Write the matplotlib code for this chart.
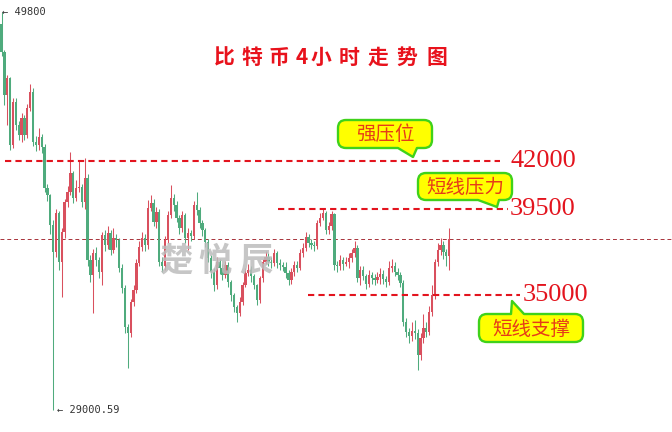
import numpy as np
import matplotlib
matplotlib.use('Agg')
import matplotlib.pyplot as plt
from matplotlib.path import Path
from matplotlib.patches import PathPatch
from matplotlib.transforms import Affine2D

plt.rcParams['font.family'] = ['Noto Sans CJK SC', 'DejaVu Sans']

# 4h BTC candles (prices)
first_open = 49160
closes = [
    47690, 45450, 46340, 42840, 45080, 43880, 43360, 44250, 43360, 44770,
    45600, 42990, 42840, 43250, 42730, 40590, 40220, 38660, 37250, 39280,
    36720, 38290, 39860, 40380, 41370, 40070, 40590, 40640, 39860, 41110,
    36830,
    36050, 37190, 36830, 36200, 38130, 37610, 38240, 37350, 37980, 37870,
    36410, 35370, 33330, 33010, 34640, 35260, 36670, 37510, 37980, 37610,
    39550, 39810, 38810, 39340, 36720, 36520, 37870, 39180, 40070, 39700,
    39020, 38500, 39180, 37980, 38240, 38080, 39700, 39440, 38760, 38400,
    37770, 36930, 36200, 35520, 36720, 36410, 36050, 36570, 35680, 35000,
    34370, 34060, 34640, 35520, 36150, 36310, 35990, 35520, 34740, 35890,
    36720, 36990, 36720, 36670, 37190, 36670, 36570,
    36450,
    36150, 35780, 36200, 36570, 36410, 37190, 37460, 38030, 37720, 37610,
    37560, 38760, 39020, 39280, 38400, 38600, 39230, 36570, 36520, 36830,
    36620,
    36750,
    36930, 37190, 37460, 35890, 36310, 35990, 35580, 36050, 35890, 35780,
    35950,
    36100, 35840, 35680, 36410, 36520, 36200, 36050, 35630, 33590, 33070,
    32860, 33120, 33010, 31870, 32750, 33280, 33070, 34110, 35000, 36720,
    37350, 37610, 37250, 37040, 37920,
]
highs = [
    49800, 47800, 46500, 46400, 45300, 45300, 44100, 44500, 44400, 45000,
    46000, 45800, 43300, 43700, 43400, 42900, 40800, 40300, 38900, 39500,
    39400, 38500, 40000, 40700, 42470, 41500, 41000, 42050, 40800, 42160,
    41300,
    37100, 37400, 37500, 37000, 38300, 38400, 38600, 38400, 38500, 38200,
    38000, 36600, 35500, 33500, 34800, 35500, 36900, 37800, 38300, 38200,
    39960, 40220, 40000, 39600, 39500, 37000, 38100, 39400, 40750, 40300,
    39900, 39200, 39400, 39300, 38500, 38400, 39900, 40380, 39600, 38900,
    38500, 37900, 37100, 36400, 37000, 36900, 36600, 36800, 36700, 35800,
    35100, 34500, 34900, 35700, 36400, 36600, 36500, 36100, 35600, 36000,
    36900, 37300, 37200, 37000, 37400, 37300, 36900,
    36700,
    36700, 36300, 36400, 36800, 36800, 37400, 37700, 38300, 38200, 37900,
    37800, 38900, 39300, 39550, 39400, 38800, 39390, 39300, 36800, 37100,
    37000,
    37000,
    37200, 37400, 37800, 37600, 36500, 36500, 36100, 36300, 36200, 36100,
    36200,
    36400, 36300, 36000, 36800, 36900, 36700, 36400, 36200, 35800, 33800,
    33300, 33600, 33700, 33200, 33000, 34000, 33600, 34400, 35500, 36900,
    37700, 38000, 37800, 37400, 38500,
]
lows = [
    47500, 44930, 43880, 42580, 42680, 43600, 43100, 42990, 43100, 43200,
    44600, 42800, 42500, 42600, 42400, 40400, 39900, 38200, 29000.59, 37000,
    36300, 34900, 38000, 39600, 40200, 39800, 39900, 40400, 39600, 39500,
    36500,
    35700, 34060, 36500, 35900, 35520, 37300, 37400, 37100, 37200, 37500,
    36200, 35100, 33000, 31190, 32800, 34400, 35100, 36500, 37300, 37300,
    37400, 39400, 38600, 38500, 36500, 36200, 36300, 37700, 39000, 39400,
    38800, 38200, 38300, 37700, 37350, 37800, 37900, 39200, 38500, 38100,
    37500, 36700, 35900, 35200, 35300, 36100, 35800, 35900, 35400, 34700,
    34100, 33590, 33900, 34500, 35400, 36000, 35700, 35300, 34480, 34600,
    35700, 36600, 36500, 36400, 36500, 36400, 36300,
    36250,
    35900, 35500, 35600, 36000, 36200, 36300, 37000, 37300, 37500, 37400,
    37300, 37400, 38600, 38900, 38200, 38200, 38400, 36300, 36200, 36300,
    36300,
    36500,
    36400, 36700, 37000, 35700, 35500, 35800, 35300, 35400, 35600, 35500,
    35650,
    35600, 35600, 35400, 35500, 36200, 36000, 35800, 35400, 33400, 32800,
    32500, 32600, 32700, 31080, 31600, 32500, 32800, 32900, 33900, 34800,
    36500, 37100, 36900, 36500, 36310,
]
opens = [first_open] + closes[:-1]

levels = [42000, 39500, 35000]
level_texts = ['42000', '39500', '35000']
top_label = '← 49800'
top_price = 49800
bottom_label = '← 29000.59'
bottom_price = 29000.59
title = '比特币4小时走势图'
watermark = '楚悦辰'
bubble_texts = ['强压位', '短线压力', '短线支撑']

UP = '#d9505e'
DOWN = '#4fab7d'
LINE_RED = '#e3141e'

W, H = 672, 432
fig = plt.figure(figsize=(W / 100, H / 100), dpi=100)
ax = fig.add_axes([0, 0, 1, 1])
ax.axis('off')

step = 2.87
def px2x(px):
    return (px - 1.5) / step

ax.set_xlim(px2x(0), px2x(W))
ax.set_ylim(27843, 50411)

# candles
o = np.array(opens, float)
c = np.array(closes, float)
hi = np.array(highs, float)
lo = np.array(lows, float)
idx = np.arange(len(c))
cols = np.where(c >= o, UP, DOWN)
ax.vlines(idx, lo, hi, colors=cols, lw=0.75, zorder=2)
body = np.maximum(np.abs(c - o), 60)
ax.bar(idx, body, bottom=np.minimum(o, c), width=0.8, color=cols,
       linewidth=0, zorder=3)

# current price line
ax.axhline(closes[-1], color='#a8323a', lw=0.7, dashes=(4, 3), zorder=1)

# support / resistance levels
spans = [(5, 500), (278, 508), (308, 520)]
label_px = [510, 510, 523]
for lvl, txt, (a, b), lx in zip(levels, level_texts, spans, label_px):
    ax.plot([px2x(a), px2x(b)], [lvl, lvl], color=LINE_RED, lw=1.5,
            dashes=(3, 2), zorder=4)
    ax.text(px2x(lx), lvl, txt, color=LINE_RED, fontsize=19,
            family='Liberation Serif', va='center', ha='left', zorder=6)

# high / low markers
ax.text(px2x(2), top_price, top_label, family='DejaVu Sans Mono',
        fontsize=7.5, color='#333333', va='center', ha='left')
ax.text(px2x(57), bottom_price, bottom_label, family='DejaVu Sans Mono',
        fontsize=7.5, color='#333333', va='center', ha='left')

# pixel transform for decorations (y down, like the picture)
pix = Affine2D().scale(1 / W, -1 / H).translate(0, 1) + fig.transFigure

# title, one glyph at a time (wide letter spacing)
title_px = [224, 252, 279, 302, 321, 349, 378, 407, 437]
for ch, xp in zip(title, title_px):
    fig.text(xp, 57, ch, transform=pix, color='#e8121c', fontsize=15,
             fontweight='bold', ha='center', va='center')

# watermark
for ch, xp in zip(watermark, [176, 215, 256]):
    fig.text(xp, 261, ch, transform=pix, color='#bcbcbc', alpha=0.85,
             fontsize=24, fontweight='bold', ha='center', va='center',
             zorder=7)

M, L, C3, CL = Path.MOVETO, Path.LINETO, Path.CURVE3, Path.CLOSEPOLY

def bubble(x0, y0, x1, y1, base, tip, side, r=8):
    b0, b1 = base
    if side == 'bottom':
        verts = [(x0 + r, y0), (x1 - r, y0), (x1, y0), (x1, y0 + r),
                 (x1, y1 - r), (x1, y1), (x1 - r, y1),
                 (b1, y1), tip, (b0, y1),
                 (x0 + r, y1), (x0, y1), (x0, y1 - r),
                 (x0, y0 + r), (x0, y0), (x0 + r, y0), (0, 0)]
        codes = [M, L, C3, C3, L, C3, C3, L, L, L, L, C3, C3, L, C3, C3, CL]
    else:
        verts = [(x0 + r, y0), (b0, y0), tip, (b1, y0), (x1 - r, y0),
                 (x1, y0), (x1, y0 + r),
                 (x1, y1 - r), (x1, y1), (x1 - r, y1),
                 (x0 + r, y1), (x0, y1), (x0, y1 - r),
                 (x0, y0 + r), (x0, y0), (x0 + r, y0), (0, 0)]
        codes = [M, L, L, L, L, C3, C3, L, C3, C3, L, C3, C3, L, C3, C3, CL]
    patch = PathPatch(Path(verts, codes), transform=pix, facecolor='#ffff00',
                      edgecolor='#3fd21a', lw=1.7, joinstyle='round',
                      zorder=8)
    fig.add_artist(patch)

boxes = [
    (338, 120, 432, 148, (398, 417), (413, 157), 'bottom'),
    (418, 173, 512, 200, (478, 499), (497, 207), 'bottom'),
    (479, 314, 583, 342, (511, 524), (512, 301), 'top'),
]
for (x0, y0, x1, y1, base, tip, side), txt in zip(boxes, bubble_texts):
    bubble(x0, y0, x1, y1, base, tip, side)
    fig.text((x0 + x1) / 2, (y0 + y1) / 2 + 1, txt, transform=pix,
             color='#e63c18', fontsize=14, ha='center', va='center',
             zorder=9)

fig.savefig('out.png', dpi=100)
